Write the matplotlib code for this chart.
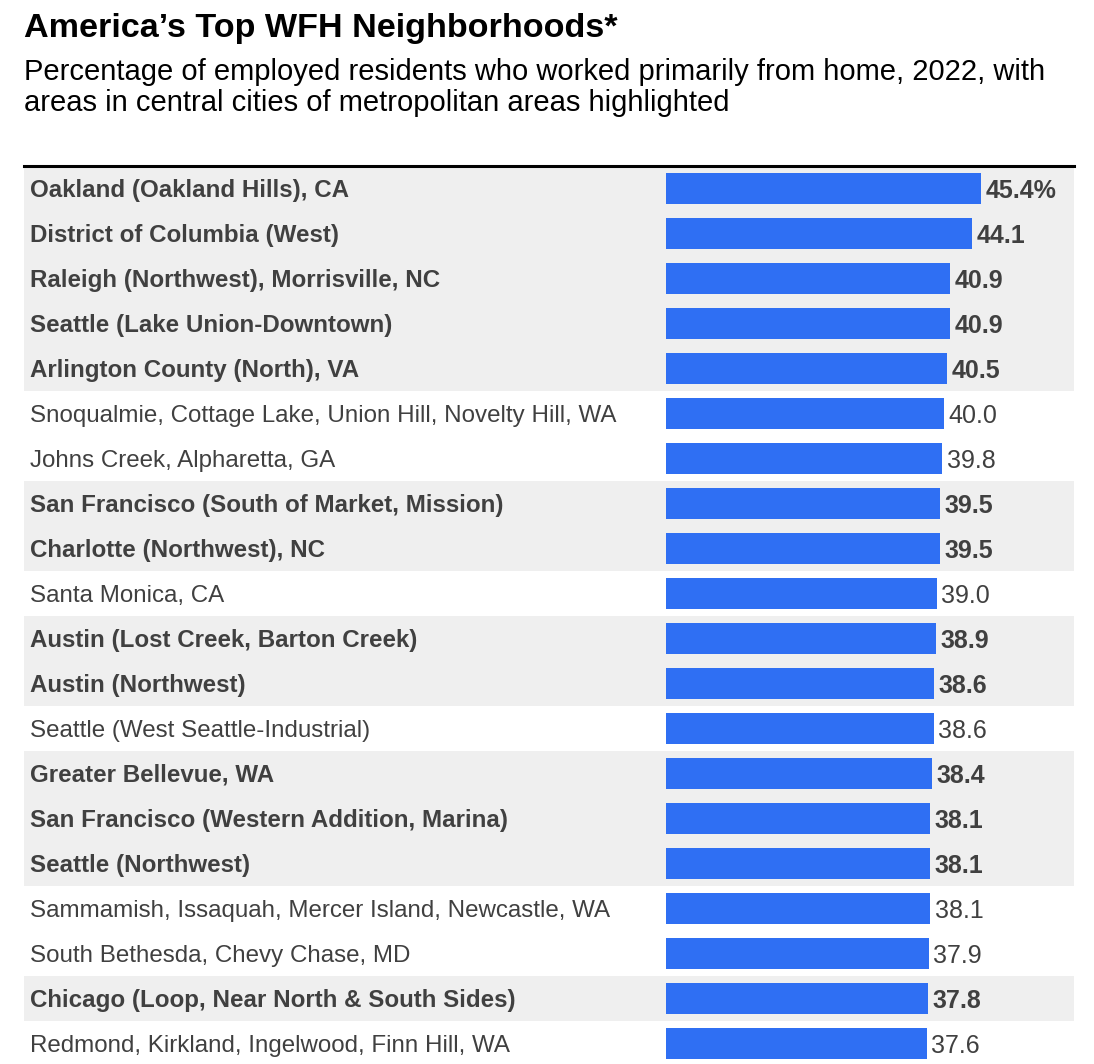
import matplotlib.pyplot as plt
import matplotlib.transforms as mtransforms

names = ["Oakland (Oakland Hills), CA", "District of Columbia (West)",
         "Raleigh (Northwest), Morrisville, NC", "Seattle (Lake Union-Downtown)",
         "Arlington County (North), VA", "Snoqualmie, Cottage Lake, Union Hill, Novelty Hill, WA",
         "Johns Creek, Alpharetta, GA", "San Francisco (South of Market, Mission)",
         "Charlotte (Northwest), NC", "Santa Monica, CA",
         "Austin (Lost Creek, Barton Creek)", "Austin (Northwest)",
         "Seattle (West Seattle-Industrial)", "Greater Bellevue, WA",
         "San Francisco (Western Addition, Marina)", "Seattle (Northwest)",
         "Sammamish, Issaquah, Mercer Island, Newcastle, WA", "South Bethesda, Chevy Chase, MD",
         "Chicago (Loop, Near North & South Sides)", "Redmond, Kirkland, Ingelwood, Finn Hill, WA"]
values = [45.4, 44.1, 40.9, 40.9, 40.5, 40.0, 39.8, 39.5, 39.5, 39.0,
          38.9, 38.6, 38.6, 38.4, 38.1, 38.1, 38.1, 37.9, 37.8, 37.6]
# 1 = area in a central city (highlighted row)
central = [1, 1, 1, 1, 1, 0, 0, 1, 1, 0, 1, 1, 0, 1, 1, 1, 0, 0, 1, 0]

FONT = "Liberation Sans"
BLUE = "#2f6ff3"
TXT = "#404040"
BAND = "#efefef"

W, H = 1094, 1064
fig = plt.figure(figsize=(W / 100, H / 100), dpi=100)

fig.text(24 / W, 1 - 37 / H, "America\u2019s Top WFH Neighborhoods*", fontsize=24.6,
         fontweight="bold", family=FONT, va="baseline", ha="left", color="black")
fig.text(24 / W, 1 - 80 / H, "Percentage of employed residents who worked primarily from home, 2022, with",
         fontsize=21, family=FONT, va="baseline", ha="left", color="black")
fig.text(24 / W, 1 - 111 / H, "areas in central cities of metropolitan areas highlighted",
         fontsize=21, family=FONT, va="baseline", ha="left", color="black")

top, pitch = 166, 45
n = len(values)
ax = fig.add_axes([24 / W, (H - top - n * pitch) / H, 1050 / W, n * pitch / H])
ax.set_xlim((24 - 666) / 6.94, (1074 - 666) / 6.94)
ax.set_ylim(n - 0.5, -0.5)
ax.axis("off")
ax.axhline(-0.5, color="black", lw=2.2, clip_on=False)

trans = mtransforms.blended_transform_factory(ax.transAxes, ax.transData)
for i, (name, v, c) in enumerate(zip(names, values, central)):
    wt = "bold" if c else "normal"
    if c:
        ax.axhspan(i - 0.5, i + 0.5, color=BAND, lw=0, zorder=0)
    ax.barh(i, v, height=0.69, color=BLUE, zorder=2)
    ax.annotate(name, (6 / 1050, i), xycoords=trans, xytext=(0, -6.1),
                textcoords="offset points", fontsize=17.4, fontweight=wt,
                family=FONT, color=TXT, va="baseline", ha="left")
    lab = f"{v:.1f}%" if i == 0 else f"{v:.1f}"
    ax.annotate(lab, (v, i), xytext=(3.2, -6.8), textcoords="offset points",
                fontsize=18, fontweight=wt, family=FONT, color=TXT,
                va="baseline", ha="left")

fig.savefig("out.png", dpi=100)
